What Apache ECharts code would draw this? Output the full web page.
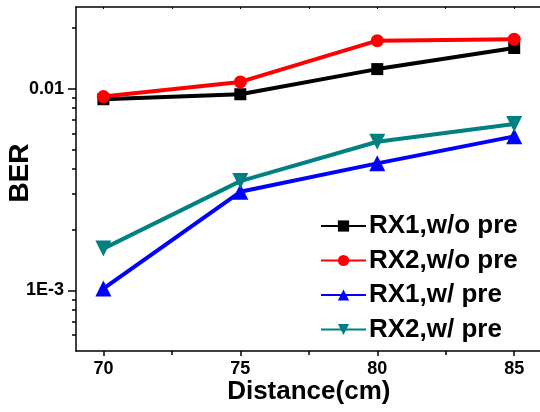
<!DOCTYPE html>
<html>
<head>
<meta charset="utf-8">
<script src="https://cdn.jsdelivr.net/npm/echarts@6/dist/echarts.min.js"></script>
<style>html,body{margin:0;padding:0;background:#fff;}#chart{width:540px;height:412px;}</style>
</head>
<body>
<div id="chart"></div>
<script>
const distances = [70, 75, 80, 85];
const rx1WoPre = [0.00886, 0.00938, 0.0125, 0.0159];
const rx2WoPre = [0.00913, 0.0108, 0.0173, 0.0176];
const rx1WPre = [0.00102, 0.00308, 0.00426, 0.00580];
const rx2WPre = [0.00161, 0.00348, 0.00545, 0.00668];
const seriesNames = ['RX1,w/o pre', 'RX2,w/o pre', 'RX1,w/ pre', 'RX2,w/ pre'];
const xMajorTicks = [70, 75, 80, 85];
const xMinorTicks = [72.5, 77.5, 82.5];
const yMajorTicks = [0.001, 0.01];
const yTickLabels = ['1E-3', '0.01'];
const yMinorTicks = [0.0006, 0.0007, 0.0008, 0.0009, 0.002, 0.003, 0.004, 0.005, 0.006, 0.007, 0.008, 0.009, 0.02];

const FONT = 'Liberation Sans, Arial, sans-serif';
const pairs = arr => distances.map((d, i) => [d, arr[i]]);

const chart = echarts.init(document.getElementById('chart'), null, {renderer: 'canvas'});
const xBase = {
  type: 'value', min: 69, max: 86, gridIndex: 0,
  splitLine: {show: false},
  axisLine: {onZero: false, lineStyle: {color: '#000', width: 1.5}}
};
const yBase = {
  type: 'log', logBase: 10, min: 0.0005, max: 0.0254, gridIndex: 0,
  splitLine: {show: false},
  axisLine: {onZero: false, lineStyle: {color: '#000', width: 1.5}}
};
chart.setOption({
  animation: false,
  backgroundColor: '#fff',
  grid: {left: 76, top: 7, right: -1.6, bottom: 61, containLabel: false, outerBoundsMode: 'none'},
  xAxis: [
    Object.assign({}, xBase, {
      position: 'bottom',
      name: 'Distance(cm)', nameLocation: 'middle', nameGap: 28, nameMoveOverlap: false,
      nameTextStyle: {fontFamily: FONT, fontWeight: 'bold', fontSize: 26, color: '#000'},
      axisTick: {show: true, inside: false, length: 5, lineStyle: {color: '#000', width: 1.5}, customValues: xMajorTicks},
      axisLabel: {show: true, customValues: xMajorTicks, margin: 9, fontFamily: FONT, fontWeight: 'bold', fontSize: 18, color: '#000'}
    }),
    Object.assign({}, xBase, {
      position: 'bottom',
      axisLine: {show: false, onZero: false},
      axisTick: {show: true, inside: false, length: 4, lineStyle: {color: '#000', width: 1.5}, customValues: xMinorTicks},
      axisLabel: {show: false}
    }),
    Object.assign({}, xBase, {
      position: 'top',
      axisTick: {show: true, inside: true, length: 2, lineStyle: {color: '#000', width: 1}, customValues: xMajorTicks.concat(xMinorTicks)},
      axisLabel: {show: false}
    })
  ],
  yAxis: [
    Object.assign({}, yBase, {
      position: 'left',
      name: 'BER', nameLocation: 'middle', nameGap: 42, nameRotate: 90, nameMoveOverlap: false,
      nameTextStyle: {fontFamily: FONT, fontWeight: 'bold', fontSize: 28, color: '#000', padding: [0, 0, 0, 12]},
      axisTick: {show: true, inside: false, length: 8, lineStyle: {color: '#000', width: 1.5}, customValues: yMajorTicks},
      axisLabel: {show: true, customValues: yMajorTicks, margin: 12, fontFamily: FONT, fontWeight: 'bold', fontSize: 18, color: '#000',
        formatter: v => { const i = yMajorTicks.findIndex(t => Math.abs(t - v) / t < 1e-6); return i >= 0 ? yTickLabels[i] : ''; }}
    }),
    Object.assign({}, yBase, {
      position: 'left',
      axisLine: {show: false, onZero: false},
      axisTick: {show: true, inside: false, length: 4, lineStyle: {color: '#000', width: 1.5}, customValues: yMinorTicks},
      axisLabel: {show: false}
    })
  ],
  legend: {
    orient: 'vertical', left: 315, top: 208,
    itemWidth: 45, itemHeight: 14, itemGap: 8.5,
    data: seriesNames,
    textStyle: {fontFamily: FONT, fontWeight: 'bold', fontSize: 26, color: '#000', padding: [0, 0, 0, -2]}
  },
  series: [
    {name: seriesNames[0], type: 'line', data: pairs(rx1WoPre), symbol: 'rect', symbolSize: 12,
      itemStyle: {color: '#000'}, lineStyle: {color: '#000', width: 4}},
    {name: seriesNames[1], type: 'line', data: pairs(rx2WoPre), symbol: 'circle', symbolSize: 13,
      itemStyle: {color: '#ff0000'}, lineStyle: {color: '#ff0000', width: 4}},
    {name: seriesNames[2], type: 'line', data: pairs(rx1WPre), symbol: 'triangle', symbolSize: 16,
      itemStyle: {color: '#0000ff'}, lineStyle: {color: '#0000ff', width: 4}},
    {name: seriesNames[3], type: 'line', data: pairs(rx2WPre), symbol: 'triangle', symbolRotate: 180, symbolSize: 16,
      itemStyle: {color: '#008080'}, lineStyle: {color: '#008080', width: 4}}
  ]
});
</script>
</body>
</html>
